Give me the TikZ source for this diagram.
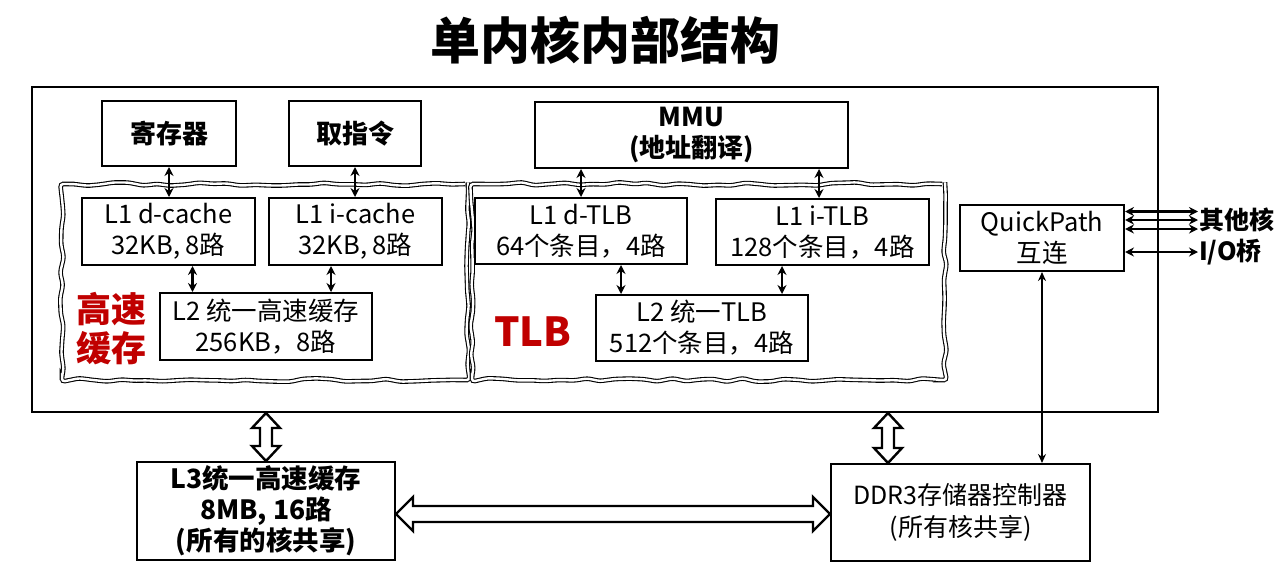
\documentclass[tikz,border=0pt]{standalone}
\usepackage{fontspec}
\setmainfont{Noto Sans CJK SC}
\usetikzlibrary{arrows.meta,decorations.pathmorphing,calc}
\definecolor{darkred}{HTML}{C00000}
\begin{document}
\begin{tikzpicture}[x=1pt,y=-1pt,
 box/.style={draw, line width=2pt, inner sep=0pt, align=center, font=\fontsize{25.5}{31}\selectfont},
 bbox/.style={box, font=\fontsize{26}{31}\selectfont\bfseries},
 wavy/.style={draw, double, double distance=2.4pt, line width=1.1pt, decorate,
   decoration={random steps, segment length=14pt, amplitude=1.8pt}, rounded corners=3pt, inner sep=0pt},
 bi/.style={line width=2.2pt, {Stealth[length=9pt,width=9pt]}-{Stealth[length=9pt,width=9pt]}},
 thinbi/.style={line width=1.6pt, {Stealth[length=9pt,width=8pt]}-{Stealth[length=9pt,width=8pt]}},
 redlbl/.style={text=darkred, font=\fontsize{35}{39}\selectfont\bfseries, align=center, inner sep=0pt},
 sidelbl/.style={font=\fontsize{25}{30}\selectfont\bfseries, inner sep=1pt, anchor=west},
 hollowv/.style={line width=2.4pt, fill=white, to path={let \p1=(\tikztostart), \p2=(\tikztotarget) in
   (\x1,\y1) -- (\x1+14pt,\y1-15pt) -- (\x1+6pt,\y1-15pt) -- (\x1+6pt,\y2+15pt) -- (\x1+14pt,\y2+15pt)
   -- (\x1,\y2) -- (\x1-14pt,\y2+15pt) -- (\x1-6pt,\y2+15pt) -- (\x1-6pt,\y1-15pt) -- (\x1-14pt,\y1-15pt) -- cycle}},
 hollowh/.style={line width=2.4pt, fill=white, to path={let \p1=(\tikztostart), \p2=(\tikztotarget) in
   (\x1,\y1) -- (\x1+17pt,\y1+17pt) -- (\x1+17pt,\y1+8pt) -- (\x2-17pt,\y1+8pt) -- (\x2-17pt,\y1+17pt)
   -- (\x2,\y1) -- (\x2-17pt,\y1-17pt) -- (\x2-17pt,\y1-8pt) -- (\x1+17pt,\y1-8pt) -- (\x1+17pt,\y1-17pt) -- cycle}},
]
\pgfmathsetseed{7}
\useasboundingbox (0,0) rectangle (1286,568);

\node (title) at (605,40) {\fontsize{50}{50}\selectfont\bfseries 单内核内部结构};

\node[draw, line width=2pt, minimum width=1126pt, minimum height=325pt] (outer) at (595,249.5) {};

\node[bbox, minimum width=134pt, minimum height=65pt] (reg) at (169,133.5) {寄存器};
\node[bbox, minimum width=132pt, minimum height=65pt] (fetch) at (355,133.5) {取指令};
\node[bbox, minimum width=313pt, minimum height=66pt] (mmu) at (691.5,135) {MMU\\(地址翻译)};

\node[wavy, minimum width=406pt, minimum height=196pt] (cachegrp) at (265,282) {};
\node[wavy, minimum width=473pt, minimum height=196pt] (tlbgrp) at (708.5,282) {};

\node[box, minimum width=173pt, minimum height=67pt] (l1d) at (168.5,231.5) {L1 d-cache\\32KB, 8路};
\node[box, minimum width=173pt, minimum height=67pt] (l1i) at (355.5,231.5) {L1 i-cache\\32KB, 8路};
\node[box, minimum width=212pt, minimum height=67pt] (l2) at (266,326.5) {L2 统一高速缓存\\256KB，8路};
\node[redlbl] (cachelbl) at (111,329) {高速\\缓存};

\node[box, minimum width=212pt, minimum height=66pt] (dtlb) at (581,231) {L1 d-TLB\\64个条目，4路};
\node[box, minimum width=213pt, minimum height=66pt] (itlb) at (822.5,232) {L1 i-TLB\\128个条目，4路};
\node[box, minimum width=212pt, minimum height=66pt] (l2tlb) at (702,328) {L2 统一TLB\\512个条目，4路};
\node[redlbl, font=\fontsize{40}{40}\selectfont\bfseries] (tlblbl) at (533,332) {TLB};

\node[box, minimum width=164pt, minimum height=66pt] (qp) at (1042,238) {QuickPath\\互连};
\node[sidelbl] (other) at (1198,220) {其他核};
\node[sidelbl] (io) at (1198,252) {I/O桥};

\node[bbox, font=\fontsize{26.5}{31}\selectfont\bfseries, minimum width=258pt, minimum height=98pt] (l3) at (266,511) {L3统一高速缓存\\8MB, 16路\\(所有的核共享)};
\node[box, font=\fontsize{25}{32}\selectfont, minimum width=259pt, minimum height=97pt] (ddr) at (960.5,512.5) {DDR3存储器控制器\\(所有核共享)};

% anchor points for offset connectors
\coordinate (c1) at ($(l1d.south)+(24,0)$);
\coordinate (c2) at ($(l1i.south)+(-24.5,0)$);
\coordinate (t1) at ($(mmu.south)+(127.5,0)$);
\coordinate (t2) at ($(dtlb.south)+(40,0)$);
\coordinate (t3) at ($(itlb.south)+(-40.5,0)$);
\coordinate (d1) at ($(ddr.north)+(-72.5,0)$);
\coordinate (q0) at (qp.east |- other.west);
\coordinate (h1) at ($(l3.east)+(0,3)$);

% small connectors
\draw[bi] (reg.south) -- (reg.south |- l1d.north);
\draw[bi] (fetch.south) -- (fetch.south |- l1i.north);
\draw[bi] (c1) -- (c1 |- l2.north);
\draw[bi] (c2) -- (c2 |- l2.north);
\draw[bi] (mmu.south -| dtlb.north) -- (dtlb.north);
\draw[bi] (t1) -- (t1 |- itlb.north);
\draw[bi] (t2) -- (t2 |- l2tlb.north);
\draw[bi] (t3) -- (t3 |- l2tlb.north);

% QuickPath connectors
\draw[bi] ($(q0)+(0,-8.5)$) -- ($(other.west)+(0,-8.5)$);
\draw[bi] (q0) -- (other.west);
\draw[bi] ($(q0)+(0,9)$) -- ($(other.west)+(0,9)$);
\draw[bi] (qp.east |- io.west) -- (io.west);
\draw[thinbi] (qp.south) -- (qp.south |- ddr.north);

% hollow arrows
\draw[hollowv] (l3.north |- outer.south) to (l3.north);
\draw[hollowv] (d1 |- outer.south) to (d1);
\draw[hollowh] (h1) to (h1 -| ddr.west);
\end{tikzpicture}
\end{document}
